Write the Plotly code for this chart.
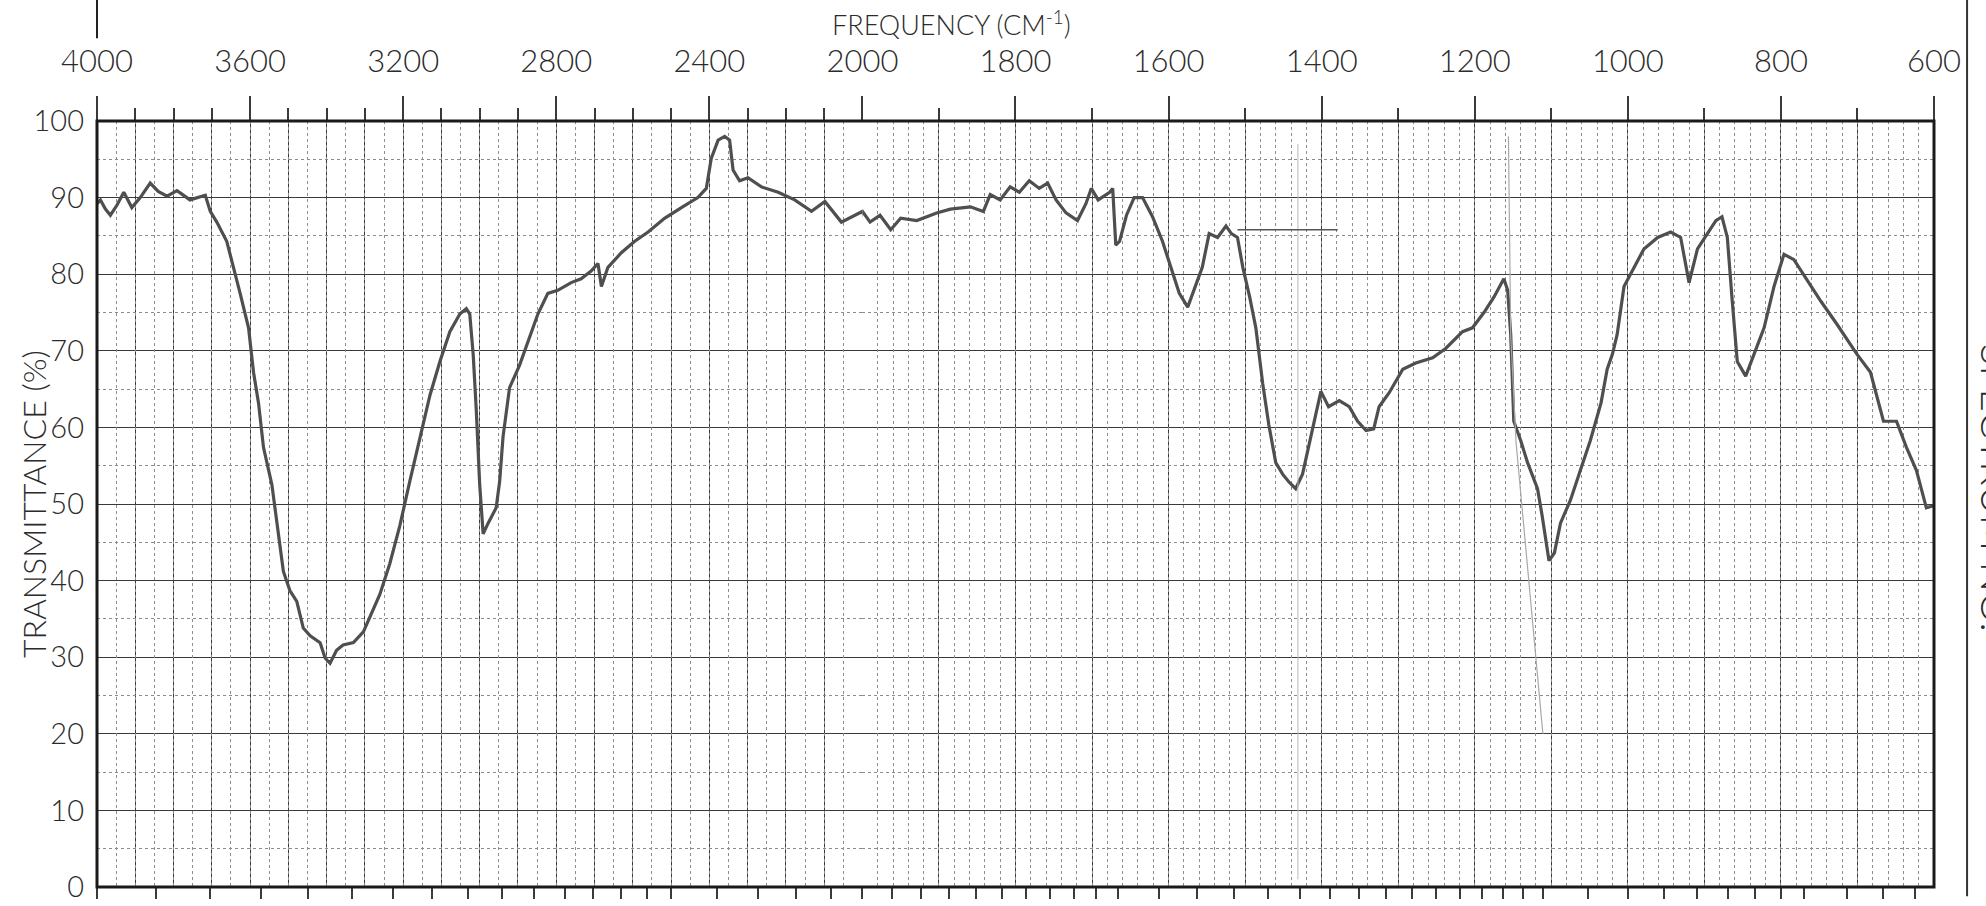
import plotly.graph_objects as go

# ---------------- data ----------------
wavenumber = [4000, 3991, 3978, 3965, 3948, 3930, 3909, 3887, 3861, 3840, 3817, 3791, 3757, 3717,
              3704, 3687, 3661, 3643, 3626, 3604, 3591, 3578, 3565, 3543, 3530, 3513, 3496, 3478,
              3461, 3443, 3417, 3404, 3391, 3374, 3357, 3330, 3304, 3287, 3261, 3235, 3209, 3183,
              3157, 3130, 3104, 3078, 3052, 3035, 3026, 3017, 3009, 3000, 2991, 2978, 2957, 2948,
              2939, 2922, 2896, 2870, 2848, 2822, 2796, 2761, 2735, 2709, 2691, 2682, 2665, 2630,
              2595, 2560, 2517, 2473, 2430, 2408, 2395, 2377, 2360, 2347, 2338, 2321, 2299, 2264,
              2220, 2177, 2133, 2098, 2055, 2000, 1990, 1977, 1963, 1950, 1929, 1903, 1885, 1859,
              1842, 1833, 1820, 1807, 1795, 1782, 1769, 1758, 1747, 1734, 1719, 1708, 1701, 1692,
              1677, 1673, 1669, 1664, 1655, 1645, 1634, 1621, 1608, 1595, 1586, 1575, 1567, 1556,
              1547, 1536, 1525, 1518, 1510, 1503, 1494, 1486, 1477, 1469, 1460, 1451, 1443, 1434,
              1425, 1417, 1408, 1401, 1391, 1377, 1364, 1353, 1342, 1332, 1325, 1312, 1294, 1277,
              1255, 1238, 1216, 1203, 1188, 1175, 1162, 1157, 1153, 1149, 1140, 1131, 1118, 1112,
              1103, 1096, 1088, 1075, 1062, 1049, 1035, 1027, 1020, 1014, 1005, 992, 979, 961,
              944, 931, 920, 909, 896, 885, 877, 870, 864, 857, 846, 835, 822, 809, 796, 783,
              770, 748, 727, 701, 683, 666, 649, 636, 623, 610, 600]
transmittance = [89.2, 89.7, 88.5, 87.7, 89.0, 90.7, 88.7, 90.0, 91.9, 90.8, 90.2, 90.9, 89.7, 90.3,
                 88.2, 86.8, 84.3, 80.9, 77.5, 73.0, 67.2, 63.2, 57.4, 52.5, 47.5, 41.2, 38.7, 37.3,
                 33.8, 32.8, 31.9, 29.9, 29.2, 30.9, 31.6, 31.9, 33.3, 35.3, 38.2, 42.2, 47.1, 52.9,
                 58.3, 64.2, 68.6, 72.5, 74.8, 75.5, 74.8, 69.5, 62.3, 52.5, 46.1, 47.5, 49.5, 52.9,
                 58.8, 65.2, 68.1, 71.6, 74.8, 77.5, 77.9, 78.9, 79.4, 80.4, 81.4, 78.4, 80.9, 82.8,
                 84.3, 85.5, 87.3, 88.7, 90.0, 91.2, 95.1, 97.5, 98.0, 97.5, 93.6, 92.2, 92.6, 91.4,
                 90.7, 89.7, 88.2, 89.5, 86.8, 88.2, 86.8, 87.7, 85.8, 87.3, 87.0, 88.0, 88.5, 88.8,
                 88.2, 90.4, 89.7, 91.4, 90.7, 92.2, 91.2, 91.9, 89.7, 88.0, 87.0, 89.2, 91.2, 89.7,
                 90.7, 91.2, 83.8, 84.3, 87.7, 90.0, 90.0, 87.5, 84.3, 80.4, 77.5, 75.7, 77.9, 80.9,
                 85.3, 84.8, 86.3, 85.3, 84.8, 80.9, 77.0, 73.0, 65.7, 60.3, 55.4, 53.9, 52.9, 52.0,
                 53.9, 57.4, 61.3, 64.7, 62.7, 63.5, 62.7, 60.8, 59.6, 59.8, 62.7, 64.5, 67.6, 68.4,
                 69.1, 70.3, 72.5, 73.0, 75.0, 77.0, 79.4, 77.9, 72.1, 60.8, 58.3, 55.4, 52.0, 48.5,
                 42.6, 43.6, 47.5, 50.5, 54.4, 58.3, 63.2, 67.6, 69.6, 72.1, 78.4, 80.9, 83.3, 84.8,
                 85.5, 84.8, 78.9, 83.3, 85.3, 87.0, 87.5, 84.8, 77.0, 68.6, 66.7, 69.6, 73.0, 78.4,
                 82.6, 81.9, 79.9, 76.5, 73.5, 69.6, 67.2, 60.8, 60.8, 57.4, 54.4, 49.5, 49.8]

# pen marks on the chart paper
pen_mark_x = [1510, 1379]
pen_mark_y = [85.8, 85.8]
faint_line1_x = [1431, 1431]
faint_line1_y = [97, 1]
faint_line2_x = [1156, 1153, 1146, 1111]
faint_line2_y = [98, 72, 58, 20]

# axis tick values
freq_ticks_hi = [4000, 3600, 3200, 2800, 2400]
freq_ticks_lo = [2000, 1800, 1600, 1400, 1200, 1000, 800, 600]
y_ticks = [0, 10, 20, 30, 40, 50, 60, 70, 80, 90, 100]

micron_ticks_hi = [2.5, 2.6, 2.7, 2.8, 2.9, 3.0, 3.1, 3.2, 3.3, 3.4, 3.5, 3.6, 3.7, 3.8, 3.9, 4.0,
                   4.2, 4.4, 4.6, 4.8]
micron_labels_hi = {2.5: "2.5", 3.0: "3.0", 3.5: "3.5", 4.0: "4.0"}
micron_ticks_lo = [5.0, 5.1, 5.2, 5.3, 5.4, 5.5, 5.6, 5.7, 5.8, 5.9, 6.0, 6.2, 6.4, 6.6, 6.8,
                   7.0, 7.2, 7.4, 7.6, 7.8, 8.0, 8.2, 8.4, 8.6, 8.8, 9.0, 9.5, 10.0, 10.5,
                   11.0, 11.5, 12.0, 12.5, 13.0, 14.0, 15.0, 16.0]
micron_labels_lo = {5.0: "5", 6.0: "6", 7.0: "7", 8.0: "8", 9.0: "9", 10.0: "10", 11.0: "11",
                    12.0: "12", 13.0: "13", 14.0: "14", 16.0: "16"}

# ---------------- figure ----------------
FONT = "Lato"
INK = "#2b2b2b"
GRID = "#3a3a3a"
DOT = "#8c8c8c"
TRACE = "#4f4f4f"

split = 1 / 2.4  # 4000-2000 at half scale, 2000-600 at double scale

fig = go.Figure()
for xa in ("x", "x2"):
    fig.add_trace(go.Scatter(x=wavenumber, y=transmittance, xaxis=xa, yaxis="y", mode="lines",
                             line=dict(color=TRACE, width=3.2), hoverinfo="skip", showlegend=False))

# invisible anchors so that the overlay axes (dotted grids, micron scale) are drawn
for xa, xv in (("x3", 3000), ("x4", 1300), ("x5", 3000), ("x6", 1300)):
    fig.add_trace(go.Scatter(x=[xv], y=[50], xaxis=xa, yaxis="y", mode="markers",
                             marker=dict(size=1, color="rgba(0,0,0,0)"), hoverinfo="skip",
                             showlegend=False))

fig.add_trace(go.Scatter(x=faint_line1_x, y=faint_line1_y, xaxis="x2", yaxis="y", mode="lines",
                         line=dict(color="#b8b8b8", width=1), showlegend=False, hoverinfo="skip"))
fig.add_trace(go.Scatter(x=faint_line2_x, y=faint_line2_y, xaxis="x2", yaxis="y", mode="lines",
                         line=dict(color="#a8a8a8", width=1.2), showlegend=False, hoverinfo="skip"))
fig.add_trace(go.Scatter(x=pen_mark_x, y=pen_mark_y, xaxis="x2", yaxis="y", mode="lines",
                         line=dict(color="#555555", width=1.5), showlegend=False, hoverinfo="skip"))

topfont = dict(family=FONT, size=31, color=INK, weight=300)
yfont = dict(family=FONT, size=29, color=INK, weight=300)
botfont = dict(family=FONT, size=28, color=INK, weight=300)

common_top = dict(side="top", anchor="y", ticks="outside", ticklen=24, tickwidth=1.5,
                  tickcolor=GRID, showline=False, zeroline=False, tickfont=topfont,
                  showgrid=True, gridcolor=GRID, gridwidth=1, ticklabelstandoff=12,
                  automargin=False, tickangle=0)

fig.update_layout(
    xaxis=dict(domain=[0, split], range=[4000, 2000], tickmode="array", tickvals=freq_ticks_hi,
               minor=dict(dtick=100, tick0=4000, ticks="outside", ticklen=12, tickcolor=GRID,
                          showgrid=True, gridcolor=GRID, gridwidth=1),
               **common_top),
    xaxis2=dict(domain=[split, 1], range=[2000, 600], tickmode="array", tickvals=freq_ticks_lo,
                minor=dict(dtick=100, tick0=2000, ticks="outside", ticklen=12, tickcolor=GRID,
                           showgrid=True, gridcolor=GRID, gridwidth=1),
                **common_top),
    # dotted sub-grids
    xaxis3=dict(overlaying="x", anchor="y", side="top", range=[4000, 2000], tickmode="linear",
                tick0=4000, dtick=50, showticklabels=False, ticks="", showgrid=True,
                gridcolor=DOT, griddash="dot", gridwidth=1, zeroline=False, automargin=False),
    xaxis4=dict(overlaying="x2", anchor="y", side="top", range=[2000, 600], tickmode="linear",
                tick0=2000, dtick=20, showticklabels=False, ticks="", showgrid=True,
                gridcolor=DOT, griddash="dot", gridwidth=1, zeroline=False, automargin=False),
    # micron scale on the bottom
    xaxis5=dict(overlaying="x", anchor="y", side="bottom", range=[4000, 2000], tickmode="array",
                tickvals=[10000 / m for m in micron_ticks_hi],
                ticktext=[micron_labels_hi.get(m, " ") for m in micron_ticks_hi],
                ticks="outside", ticklen=11, tickwidth=1.5, tickcolor=GRID, showgrid=False,
                zeroline=False, tickfont=botfont, ticklabelstandoff=2, tickangle=0,
                automargin=False),
    xaxis6=dict(overlaying="x2", anchor="y", side="bottom", range=[2000, 600], tickmode="array",
                tickvals=[10000 / m for m in micron_ticks_lo],
                ticktext=[micron_labels_lo.get(m, " ") for m in micron_ticks_lo],
                ticks="outside", ticklen=11, tickwidth=1.5, tickcolor=GRID, showgrid=False,
                zeroline=False, tickfont=botfont, ticklabelstandoff=2, tickangle=0,
                automargin=False),
    yaxis=dict(range=[0, 100], tickmode="array", tickvals=y_ticks, ticks="", showgrid=True,
               gridcolor=GRID, gridwidth=1, zeroline=False, tickfont=yfont,
               ticklabelstandoff=12, automargin=False,
               minor=dict(dtick=5, tick0=0, showgrid=True, gridcolor=DOT, griddash="dot",
                          gridwidth=1)),
    width=1986, height=906, autosize=False,
    margin=dict(l=97, r=52, t=121, b=19, pad=0, autoexpand=False),
    paper_bgcolor="white", plot_bgcolor="white",
    showlegend=False,
    font=dict(family=FONT, color=INK),
)

# border of the chart paper
fig.add_shape(type="rect", xref="paper", yref="paper", x0=0, x1=1, y0=0, y1=1,
              line=dict(color="#1a1a1a", width=3), layer="above")
# stub line above 4000 and the right-hand writing line
fig.add_shape(type="line", xref="paper", yref="paper", x0=0, x1=0, y0=1.108, y1=1.16,
              line=dict(color="#222", width=2))
fig.add_shape(type="line", xref="paper", yref="paper", x0=1.018, x1=1.018, y0=-0.012, y1=1.16,
              line=dict(color="#333", width=2))

fig.add_annotation(text="FREQUENCY (CM<sup>-1</sup>)", xref="paper", yref="paper",
                   x=0.465, y=1.128, showarrow=False, xanchor="center", yanchor="middle",
                   font=dict(family=FONT, size=27, color=INK, weight=300))
fig.add_annotation(text="TRANSMITTANCE (%)", xref="paper", yref="paper", x=-0.0348, y=0.5,
                   textangle=-90, showarrow=False, xanchor="center", yanchor="middle",
                   font=dict(family=FONT, size=32, color=INK, weight=300))
fig.add_annotation(text="(MICRONS)", xref="x2", yref="paper", x=1851, y=0, yshift=-13,
                   showarrow=False, xanchor="center", yanchor="top",
                   font=dict(family=FONT, size=24, color=INK, weight=300))
fig.add_annotation(text="SPECTRUM NO.", xref="paper", yref="paper", x=1.0195, y=0.521,
                   textangle=90, showarrow=False, xanchor="left", yanchor="middle",
                   font=dict(family=FONT, size=40, color=INK, weight=300))

fig.write_html("out.html")
